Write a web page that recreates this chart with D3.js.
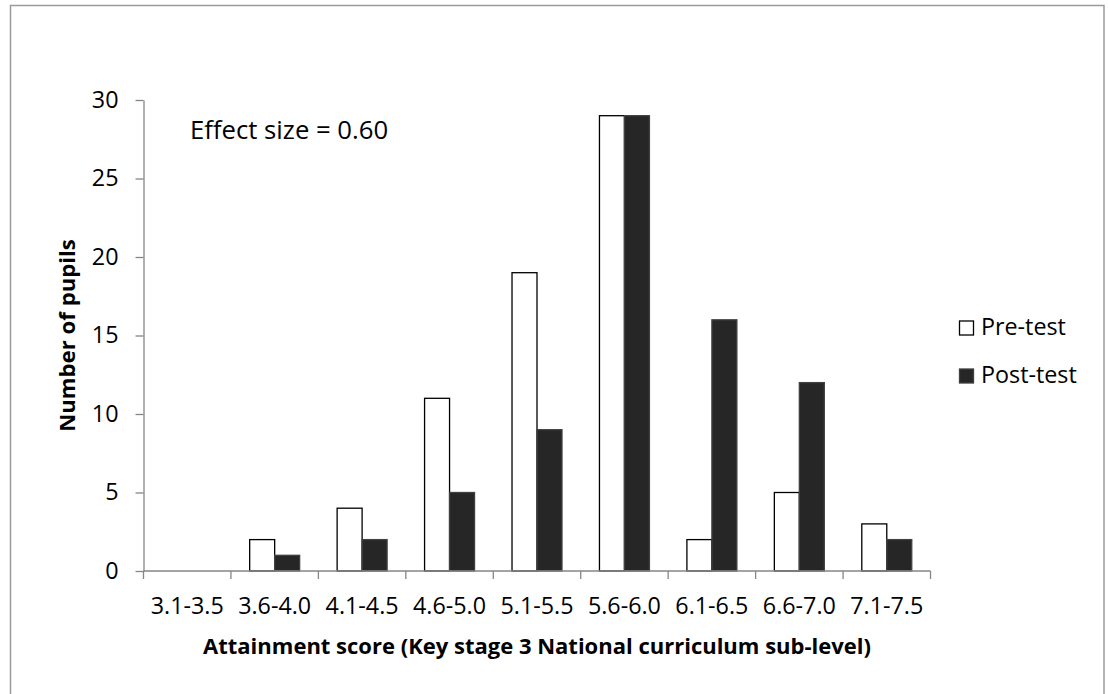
<!DOCTYPE html>
<html>
<head>
<meta charset="utf-8">
<script src="https://cdn.jsdelivr.net/npm/d3@7"></script>
<style>
  html, body { margin: 0; padding: 0; background: #fff; }
  svg { display: block; font-family: "Open Sans", "Noto Sans", sans-serif; }
</style>
</head>
<body>
<svg id="chart" width="1108" height="694"></svg>
<script>
const categories = ["3.1-3.5", "3.6-4.0", "4.1-4.5", "4.6-5.0", "5.1-5.5", "5.6-6.0", "6.1-6.5", "6.6-7.0", "7.1-7.5"];
const preTest  = [0, 2, 4, 11, 19, 29, 2, 5, 3];
const postTest = [0, 1, 2, 5, 9, 29, 16, 12, 2];
const seriesNames = ["Pre-test", "Post-test"];
const yTicks = [0, 5, 10, 15, 20, 25, 30];
const annotation = "Effect size = 0.60";
const xTitle = "Attainment score (Key stage 3 National curriculum sub-level)";
const yTitle = "Number of pupils";

const svg = d3.select("#chart");

// outer chart border (bottom edge lies below the visible area)
svg.append("rect")
  .attr("x", 10.5).attr("y", 5.5)
  .attr("width", 1093.5).attr("height", 700)
  .attr("fill", "#fff").attr("stroke", "#9a9a9a").attr("stroke-width", 1.5);

const plot = { left: 143.5, right: 930.5, top: 100, bottom: 571 };

const x = d3.scaleBand().domain(categories).range([plot.left, plot.right]).paddingInner(0).paddingOuter(0);
const y = d3.scaleLinear().domain([0, 30]).range([plot.bottom, plot.top]);
const xs = d3.scaleBand().domain(seriesNames).range([0, x.bandwidth()]).paddingInner(0).paddingOuter(0.75);

const axisColor = "#868686";
const fontSize = 23.3;

// bars
const rows = categories.map((c, i) => ({ cat: c, vals: [preTest[i], postTest[i]] }));
const groups = svg.append("g").selectAll("g").data(rows).join("g")
  .attr("transform", d => `translate(${x(d.cat)},0)`);
groups.selectAll("rect").data(d => d.vals.map((v, j) => ({ v, s: seriesNames[j] })).filter(e => e.v > 0))
  .join("rect")
  .attr("x", d => xs(d.s))
  .attr("y", d => y(d.v))
  .attr("width", xs.bandwidth())
  .attr("height", d => y(0) - y(d.v))
  .attr("fill", d => d.s === "Pre-test" ? "#ffffff" : "#262626")
  .attr("stroke", d => d.s === "Pre-test" ? "#000000" : "#404040")
  .attr("stroke-width", 1.3);

// y axis
const yAxis = d3.axisLeft(y).tickValues(yTicks).tickSize(8).tickPadding(17).tickSizeOuter(0);
const gy = svg.append("g").attr("transform", `translate(${plot.left},0)`).call(yAxis);
gy.select(".domain").attr("stroke", axisColor).attr("stroke-width", 1.3);
gy.selectAll(".tick line").attr("stroke", axisColor).attr("stroke-width", 1.3);
gy.selectAll(".tick text").attr("fill", "#000").style("font-size", fontSize + "px").style("font-family", "'Open Sans', sans-serif");

// x axis: ticks at band boundaries
const gx = svg.append("g").attr("transform", `translate(0,${plot.bottom})`);
gx.append("line").attr("x1", plot.left).attr("x2", plot.right).attr("y1", 0).attr("y2", 0)
  .attr("stroke", axisColor).attr("stroke-width", 1.3);
const boundaries = categories.map(c => x(c)).concat([x(categories[categories.length - 1]) + x.bandwidth()]);
gx.selectAll("line.tk").data(boundaries).join("line").attr("class", "tk")
  .attr("x1", d => d).attr("x2", d => d).attr("y1", 0).attr("y2", 8)
  .attr("stroke", axisColor).attr("stroke-width", 1.3);
gx.selectAll("text.lbl").data(categories).join("text").attr("class", "lbl")
  .attr("x", d => x(d) + x.bandwidth() / 2)
  .attr("y", 614 - plot.bottom)
  .attr("text-anchor", "middle")
  .style("font-size", fontSize + "px")
  .text(d => d);

// axis titles
svg.append("text")
  .attr("x", (plot.left + plot.right) / 2).attr("y", 654)
  .attr("text-anchor", "middle").attr("font-weight", "bold")
  .style("font-size", "22px")
  .text(xTitle);
svg.append("text")
  .attr("transform", `translate(75,${(plot.top + plot.bottom) / 2}) rotate(-90)`)
  .attr("text-anchor", "middle").attr("font-weight", "bold")
  .style("font-size", "22.2px")
  .text(yTitle);

// annotation
svg.append("text").attr("x", 190).attr("y", 139)
  .style("font-size", "25.7px").text(annotation);

// legend
const legend = svg.append("g").attr("transform", "translate(959,0)");
const legRows = legend.selectAll("g").data(seriesNames).join("g")
  .attr("transform", (d, i) => `translate(0,${335 + i * 48})`);
legRows.append("rect")
  .attr("x", 0.5).attr("y", -14).attr("width", 14).attr("height", 14)
  .attr("fill", d => d === "Pre-test" ? "#fff" : "#262626")
  .attr("stroke", d => d === "Pre-test" ? "#000" : "#404040")
  .attr("stroke-width", 1.3);
legRows.append("text").attr("x", 22).attr("y", 0)
  .style("font-size", fontSize + "px").text(d => d);
</script>
</body>
</html>
